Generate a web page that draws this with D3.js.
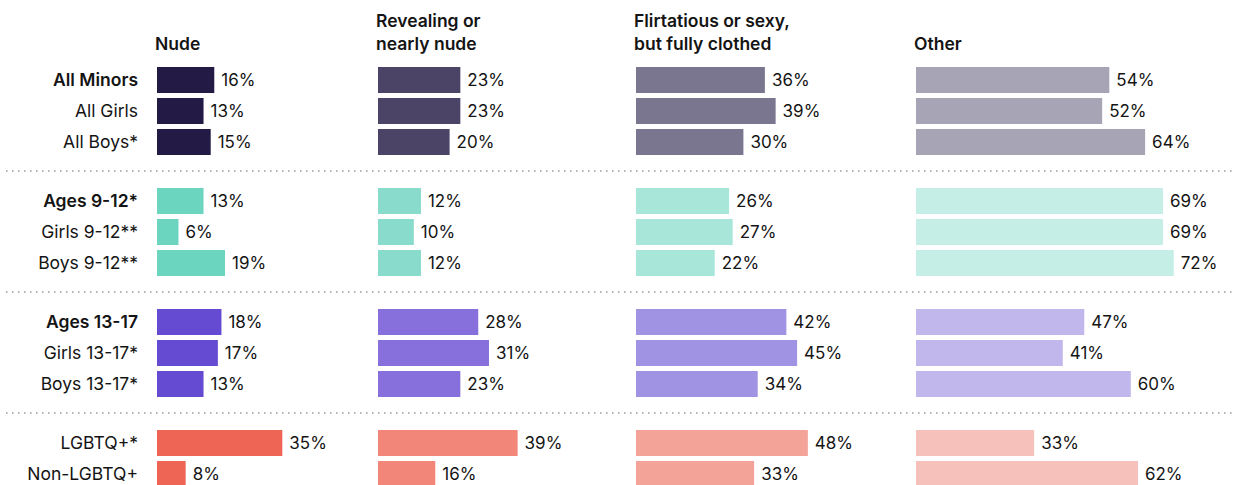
<!DOCTYPE html>
<html>
<head>
<meta charset="utf-8">
<script src="https://cdn.jsdelivr.net/npm/d3@7"></script>
<style>
  body { margin: 0; background: #fff; }
  text { font-family: "Inter", "Noto Sans", sans-serif; fill: #141414; }
</style>
</head>
<body>
<svg id="chart" width="1234" height="485"></svg>
<script>
// row labels, grouped
var groups = [
  ["All Minors", "All Girls", "All Boys*"],
  ["Ages 9-12*", "Girls 9-12**", "Boys 9-12**"],
  ["Ages 13-17", "Girls 13-17*", "Boys 13-17*"],
  ["LGBTQ+*", "Non-LGBTQ+"]
];
var boldRows = ["All Minors", "Ages 9-12*", "Ages 13-17"];

var columns = [["Nude"], ["Revealing or", "nearly nude"], ["Flirtatious or sexy,", "but fully clothed"], ["Other"]];

var nude        = [16, 13, 15, 13, 6, 19, 18, 17, 13, 35, 8];
var revealing   = [23, 23, 20, 12, 10, 12, 28, 31, 23, 39, 16];
var flirtatious = [36, 39, 30, 26, 27, 22, 42, 45, 34, 48, 33];
var other       = [54, 52, 64, 69, 69, 72, 47, 41, 60, 33, 62];
var series = [nude, revealing, flirtatious, other];

// colors per group (rows) x column
var palette = [
  ["#231b46", "#4b4466", "#7a7690", "#a7a4b6"],
  ["#6cd5c0", "#89dccb", "#a8e6da", "#c5eee6"],
  ["#644bd1", "#8770dc", "#a193e4", "#c2b7ed"],
  ["#ee6455", "#f28678", "#f4a398", "#f7c1bb"]
];

var svg = d3.select("#chart");
var colX = [157, 378, 636, 916];
var barH = 26, rowStep = 31, groupGap = 28, topY = 67;

var x = d3.scaleLinear().domain([0, 100]).range([0, 358]);

var rows = [];
groups.forEach(function(g, gi) {
  g.forEach(function(label) {
    rows.push({label: label, group: gi});
  });
});
rows.forEach(function(r, i) {
  r.y = topY + i * rowStep + r.group * groupGap;
});

// column headers
columns.forEach(function(lines, ci) {
  var t = svg.append("text")
    .attr("x", colX[ci] - 2)
    .attr("font-size", 17.5)
    .attr("font-weight", 600);
  lines.forEach(function(line, li) {
    t.append("tspan")
      .attr("x", colX[ci] - 2)
      .attr("y", 50 - (lines.length - 1 - li) * 23)
      .text(line);
  });
});

// row labels
svg.selectAll(".rowLabel").data(rows).enter().append("text")
  .attr("class", "rowLabel")
  .attr("x", 138)
  .attr("y", function(d) { return d.y + barH / 2; })
  .attr("dy", "0.35em")
  .attr("text-anchor", "end")
  .attr("font-size", 17.5)
  .attr("font-weight", function(d) { return boldRows.indexOf(d.label) >= 0 ? 600 : 400; })
  .text(function(d) { return d.label; });

// bars + values
series.forEach(function(vals, ci) {
  var col = svg.append("g").attr("transform", "translate(" + colX[ci] + ",0)");
  col.selectAll("rect").data(rows).enter().append("rect")
    .attr("x", 0)
    .attr("y", function(d) { return d.y; })
    .attr("width", function(d, i) { return x(vals[i]); })
    .attr("height", barH)
    .attr("fill", function(d) { return palette[d.group][ci]; });
  col.selectAll("text").data(rows).enter().append("text")
    .attr("x", function(d, i) { return x(vals[i]) + 7; })
    .attr("y", function(d) { return d.y + barH / 2; })
    .attr("dy", "0.35em")
    .attr("font-size", 17)
    .text(function(d, i) { return vals[i] + "%"; });
});

// dotted separators
for (var gi = 1; gi < groups.length; gi++) {
  var firstIdx = rows.findIndex(function(r) { return r.group === gi; });
  var ySep = rows[firstIdx].y - (rowStep - barH + groupGap) / 2 - 0.5;
  svg.append("line")
    .attr("x1", 6).attr("x2", 1232)
    .attr("y1", ySep).attr("y2", ySep)
    .attr("stroke", "#999")
    .attr("stroke-width", 1.5)
    .attr("stroke-dasharray", "1.5,4.5");
}
</script>
</body>
</html>
